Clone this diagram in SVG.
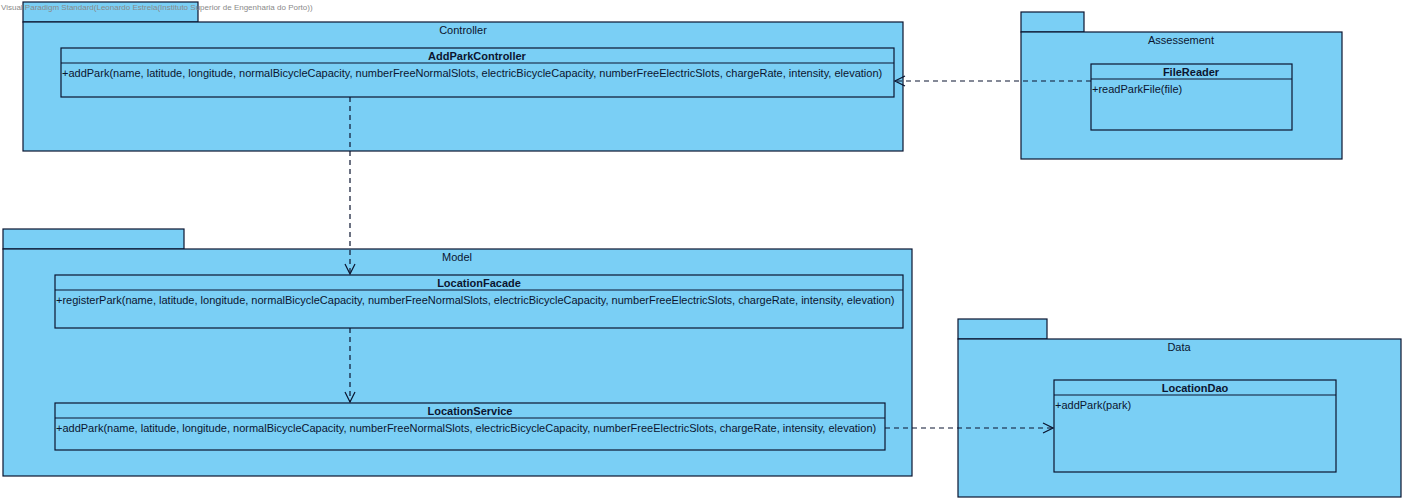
<svg xmlns="http://www.w3.org/2000/svg" width="1405" height="502" viewBox="0 0 1405 502">
<style>
.pk{fill:#7ACFF5;stroke:#0B1530;stroke-width:1.2}
.cl{fill:#7ACFF5;stroke:#0B1530;stroke-width:1.2}
.ln{stroke:#0B1530;stroke-width:1.2}
.t{font-family:"Liberation Sans",Arial,sans-serif;font-size:11px;fill:#0B1530}
.b{font-weight:bold;text-anchor:middle}
.c{text-anchor:middle}
.dep{fill:none;stroke:#0B1530;stroke-width:1.2;stroke-dasharray:5,4}
.wm{font-family:"Liberation Sans",Arial,sans-serif;font-size:8px;fill:#8a8a8a}
</style>
<defs>
<marker id="open" viewBox="0 0 12 12" refX="11" refY="6" markerWidth="12" markerHeight="12" markerUnits="userSpaceOnUse" orient="auto">
<path d="M1,1 L11,6 L1,11" fill="none" stroke="#0B1530" stroke-width="1.2"/>
</marker>
</defs>
<rect width="1405" height="502" fill="#ffffff"/>

<g id="pkg-controller">
<rect class="pk" x="23" y="2" width="175" height="20"/>
<rect class="pk" x="23" y="22" width="880" height="129"/>
<text class="t c" x="463" y="34">Controller</text>
</g>
<g id="AddParkController">
<rect class="cl" x="61" y="48" width="833" height="49"/>
<line class="ln" x1="61" y1="63" x2="894" y2="63"/>
<text class="t b" x="477" y="60">AddParkController</text>
<text class="t" x="62" y="77">+addPark(name, latitude, longitude, normalBicycleCapacity, numberFreeNormalSlots, electricBicycleCapacity, numberFreeElectricSlots, chargeRate, intensity, elevation)</text>
</g>

<g id="pkg-assessement">
<rect class="pk" x="1021" y="12" width="63" height="20"/>
<rect class="pk" x="1021" y="32" width="321" height="127"/>
<text class="t c" x="1181" y="44">Assessement</text>
</g>
<g id="FileReader">
<rect class="cl" x="1091" y="64" width="201" height="66"/>
<line class="ln" x1="1091" y1="79" x2="1292" y2="79"/>
<text class="t b" x="1191" y="76">FileReader</text>
<text class="t" x="1092" y="93">+readParkFile(file)</text>
</g>

<g id="pkg-model">
<rect class="pk" x="3" y="229" width="181" height="20"/>
<rect class="pk" x="3" y="249" width="909" height="227"/>
<text class="t c" x="457" y="261">Model</text>
</g>
<g id="LocationFacade">
<rect class="cl" x="55" y="275" width="848" height="53"/>
<line class="ln" x1="55" y1="290" x2="903" y2="290"/>
<text class="t b" x="479" y="287">LocationFacade</text>
<text class="t" x="56" y="304">+registerPark(name, latitude, longitude, normalBicycleCapacity, numberFreeNormalSlots, electricBicycleCapacity, numberFreeElectricSlots, chargeRate, intensity, elevation)</text>
</g>
<g id="LocationService">
<rect class="cl" x="55" y="403" width="830" height="47"/>
<line class="ln" x1="55" y1="418" x2="885" y2="418"/>
<text class="t b" x="470" y="415">LocationService</text>
<text class="t" x="56" y="432">+addPark(name, latitude, longitude, normalBicycleCapacity, numberFreeNormalSlots, electricBicycleCapacity, numberFreeElectricSlots, chargeRate, intensity, elevation)</text>
</g>

<g id="pkg-data">
<rect class="pk" x="958" y="319" width="89" height="20"/>
<rect class="pk" x="958" y="339" width="443" height="158"/>
<text class="t c" x="1179" y="351">Data</text>
</g>
<g id="LocationDao">
<rect class="cl" x="1054" y="380" width="282" height="92"/>
<line class="ln" x1="1054" y1="395" x2="1336" y2="395"/>
<text class="t b" x="1195" y="392">LocationDao</text>
<text class="t" x="1055" y="409">+addPark(park)</text>
</g>

<g id="connectors">
<line class="dep" x1="1091" y1="81" x2="895" y2="81" marker-end="url(#open)"/>
<line class="dep" x1="350" y1="97" x2="350" y2="274" marker-end="url(#open)"/>
<line class="dep" x1="350" y1="328" x2="350" y2="402" marker-end="url(#open)"/>
<line class="dep" x1="885" y1="428" x2="1053" y2="428" marker-end="url(#open)"/>
</g>

<text class="wm" x="1" y="10">Visual Paradigm Standard(Leonardo Estrela(Instituto Superior de Engenharia do Porto))</text>
</svg>
